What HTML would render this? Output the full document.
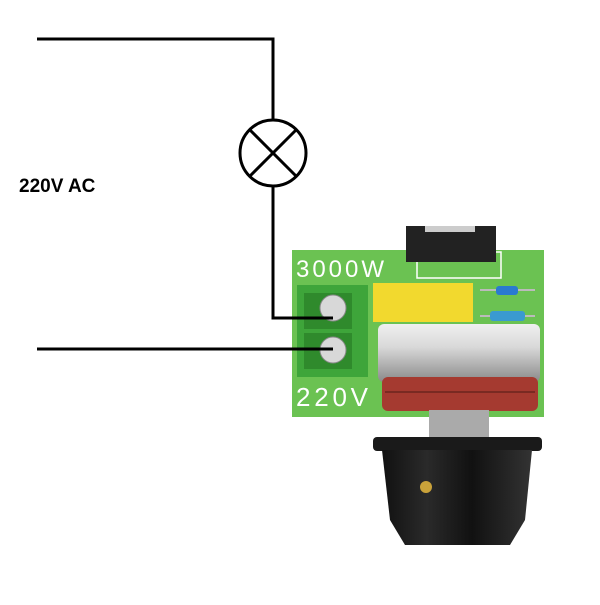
<!DOCTYPE html>
<html><head><meta charset="utf-8"><style>html,body{margin:0;padding:0;background:#fff}</style></head>
<body>
<svg width="600" height="600" viewBox="0 0 600 600" xmlns="http://www.w3.org/2000/svg">
<rect width="600" height="600" fill="#fff"/>
<defs>
<linearGradient id="silver" x1="0" x2="0" y1="0" y2="1"><stop offset="0" stop-color="#f0f0f0"/><stop offset="0.4" stop-color="#d8d8d8"/><stop offset="1" stop-color="#8a8a8a"/></linearGradient>
<linearGradient id="knob" x1="0" x2="1" y1="0" y2="0"><stop offset="0" stop-color="#111"/><stop offset="0.3" stop-color="#2a2a2a"/><stop offset="0.6" stop-color="#111"/><stop offset="1" stop-color="#333"/></linearGradient>
</defs>
<rect x="292" y="250" width="252" height="167" fill="#5cb84a"/>
<rect x="292" y="250" width="252" height="167" fill="#7acb5a" opacity="0.5"/>
<text x="296" y="277" font-family="Liberation Sans, sans-serif" font-size="24" fill="#fff" textLength="88">3000W</text>
<text x="296" y="406" font-family="Liberation Sans, sans-serif" font-size="26" fill="#fff" textLength="72">220V</text>
<rect x="417" y="252" width="84" height="26" fill="none" stroke="#fff" stroke-width="1.5"/>
<rect x="406" y="226" width="90" height="36" fill="#222"/>
<rect x="425" y="226" width="50" height="6" fill="#ccc"/>
<line x1="480" y1="290" x2="535" y2="290" stroke="#bbb" stroke-width="2"/>
<rect x="496" y="286" width="22" height="9" rx="3" fill="#2a7ad0"/>
<line x1="480" y1="316" x2="535" y2="316" stroke="#bbb" stroke-width="2"/>
<rect x="490" y="311" width="35" height="10" rx="3" fill="#3a9ad0"/>
<rect x="373" y="283" width="100" height="39" fill="#f2d92e"/>
<rect x="297" y="285" width="71" height="92" fill="#3ea53a"/>
<rect x="304" y="293" width="48" height="36" fill="#2f8a2c"/>
<rect x="304" y="333" width="48" height="36" fill="#2f8a2c"/>
<circle cx="333" cy="308" r="13" fill="#d8d8d8" stroke="#888"/>
<circle cx="333" cy="350" r="13" fill="#d8d8d8" stroke="#888"/>
<rect x="378" y="324" width="162" height="58" rx="6" fill="url(#silver)"/>
<rect x="382" y="377" width="156" height="34" rx="6" fill="#a53a30"/>
<line x1="385" y1="392" x2="535" y2="392" stroke="#7a2a22" stroke-width="2"/>
<rect x="429" y="410" width="60" height="28" fill="#aaa"/>
<rect x="373" y="437" width="169" height="14" rx="4" fill="#1a1a1a"/>
<path d="M382 450 L532 450 L525 520 L510 545 L405 545 L390 520 Z" fill="url(#knob)"/>
<circle cx="426" cy="487" r="6" fill="#c9a23a"/>
<g stroke="#000" stroke-width="3" fill="none">
<polyline points="37,39 273,39 273,120"/>
<polyline points="273,186 273,318 333,318"/>
<line x1="37" y1="349" x2="333" y2="349"/>
<circle cx="273" cy="153" r="33"/>
<line x1="250" y1="130" x2="296" y2="176"/>
<line x1="296" y1="130" x2="250" y2="176"/>
</g>
<text x="19" y="192" font-family="Liberation Sans, sans-serif" font-weight="bold" font-size="19" fill="#000">220V AC</text>
</svg>
</body></html>
